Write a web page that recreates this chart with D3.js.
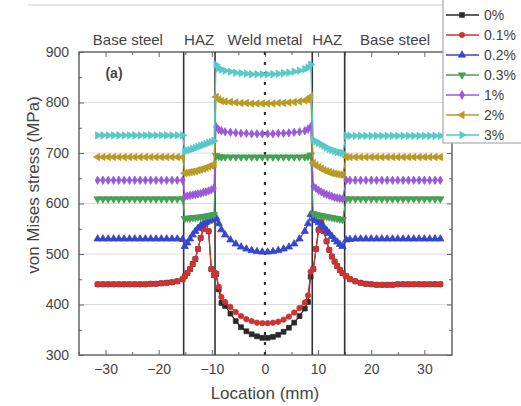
<!DOCTYPE html>
<html lang="en">
<head>
  <meta charset="UTF-8">
  <title>von Mises stress</title>
  <script src="https://d3js.org/d3.v7.min.js"></script>
  <style>
    body { margin: 0; background: #fff; }
    text { font-family: Arial, "Liberation Sans", sans-serif; fill: #444; }
  </style>
</head>
<body>
  <script>
    // Location (mm) of the measurement points
    const xs = [
      -31.5,-30.5,-29.5,-28.5,-27.5,-26.5,-25.5,-24.5,-23.5,-22.5,-21.5,-20.5,-19.5,-18.5,-17.5,-16.5,-15.5,
      -15.1,-14.6,-14.1,-13.6,-13.1,-12.6,-12.1,-11.6,-11.1,-10.6,-10.1,-9.6,
      -9.2,-8.7,-8.2,-7.5,-6.5,-5.5,-4.5,-3.5,-2.5,-1.5,-0.5,0.5,1.5,2.5,3.5,4.5,5.5,6.5,7.5,8.1,8.6,
      9.1,9.6,10.1,10.6,11.1,11.6,12.1,12.6,13.1,13.6,14.1,14.6,
      15.3,16,17,18,19,20,21,22,23,24,25,26,27,28,29,30,31,32,33
    ];

    // stress values (MPa), one array per strain level
    const s0 = [
      440,440,440,440,440,440,440,440,440,440,441,441,442,443,444,446,450,
      456,462,470,480,490,510,532,550,562,545,470,458,
      460,430,403,397,382,367,355,347,341,337,334,334,336,340,346,354,364,377,392,405,455,
      470,510,548,563,545,525,508,495,485,476,468,462,
      456,450,446,443,441,440,439,439,439,439,440,440,440,440,440,440,440,440,440
    ];
    const s01 = [
      440,440,440,440,440,440,440,440,440,440,441,441,442,443,444,446,450,
      456,462,470,480,490,510,532,550,562,545,470,458,
      462,435,415,405,395,385,377,371,367,364,363,363,364,366,370,376,384,393,404,418,465,
      470,510,548,563,545,525,508,495,485,476,468,462,
      456,450,446,443,441,440,439,439,439,439,440,440,440,440,440,440,440,440,440
    ];
    const s02 = [
      530,530,530,530,530,530,530,530,530,530,530,530,530,530,530,530,529,
      515,522,530,538,545,551,556,560,563,565,567,569,
      572,560,548,538,528,520,514,510,507,505,504,504,505,507,510,514,520,530,545,560,578,
      570,566,562,558,553,547,541,535,529,524,519,515,
      528,529,530,530,530,530,530,530,530,530,530,530,530,530,530,530,530,530,530
    ];
    const s03 = [
      609,609,609,609,609,609,609,609,609,609,609,609,609,609,609,609,609,
      570,571,571,572,572,573,573,574,575,576,577,578,
      695,693,692,692,692,692,692,692,692,692,692,692,692,692,692,692,692,692,692,693,696,
      580,578,577,576,575,574,573,572,571,570,569,568,
      609,609,609,609,609,609,609,609,609,609,609,609,609,609,609,609,609,609,609
    ];
    const s1 = [
      646,646,646,646,646,646,646,646,646,646,646,646,646,646,646,646,646,
      614,615,616,617,618,619,620,622,623,625,627,630,
      752,746,744,742,741,740,739,739,738,738,738,738,738,739,739,740,741,742,744,747,752,
      634,630,626,623,620,618,616,614,612,611,610,609,
      646,646,646,646,646,646,646,646,646,646,646,646,646,646,646,646,646,646,646
    ];
    const s2 = [
      692,692,692,692,692,692,692,692,692,692,692,692,692,692,692,692,692,
      660,661,662,663,664,666,667,669,671,673,675,678,
      811,806,803,802,801,800,799,799,798,798,798,798,798,799,799,800,801,802,804,806,812,
      680,676,672,669,666,664,662,660,659,658,657,656,
      692,692,692,692,692,692,692,692,692,692,692,692,692,692,692,692,692,692,692
    ];
    const s3 = [
      735,735,735,735,735,735,735,735,735,735,735,735,735,735,735,735,735,
      703,705,706,708,710,712,714,716,718,720,722,724,
      875,868,865,863,861,859,858,857,856,856,856,856,856,857,858,859,861,863,866,869,875,
      726,723,720,717,714,711,708,706,704,702,701,700,
      734,734,734,734,734,734,734,734,734,734,734,734,734,734,734,734,734,734,734
    ];

    const seriesNames = ["0%", "0.1%", "0.2%", "0.3%", "1%", "2%", "3%"];
    const seriesValues = [s0, s01, s02, s03, s1, s2, s3];
    const colors = ["#2a2a2a", "#d03232", "#3546cc", "#45a052", "#9a58da", "#b99a24", "#58c8c8"];
    const shapes = ["square", "circle", "up", "down", "diamond", "left", "right"];

    const xTicks = [-30, -20, -10, 0, 10, 20, 30];
    const yTicks = [300, 400, 500, 600, 700, 800, 900];
    const boundaries = [-15.3, -9.4, 8.9, 15.0];
    const regions = [
      { label: "Base steel", x: -25.8 },
      { label: "HAZ", x: -12.4 },
      { label: "Weld metal", x: 0 },
      { label: "HAZ", x: 11.7 },
      { label: "Base steel", x: 24.5 }
    ];

    const width = 521, height = 406;
    const m = { left: 79, right: 452, top: 52, bottom: 355 };

    const svg = d3.select("body").append("svg")
      .attr("width", width)
      .attr("height", height);

    const x = d3.scaleLinear().domain([-35, 35.2]).range([m.left, m.right]);
    const y = d3.scaleLinear().domain([300, 900]).range([m.bottom, m.top]);

    // faint line across the very top (cropped from the original figure)
    svg.append("line")
      .attr("x1", 28).attr("x2", 443).attr("y1", 5).attr("y2", 5)
      .style("stroke", "#d0d0d0");

    // grid
    svg.append("g").selectAll("line")
      .data(yTicks.slice(1, -1))
      .enter().append("line")
      .attr("x1", m.left).attr("x2", m.right)
      .attr("y1", d => y(d)).attr("y2", d => y(d))
      .style("stroke", "#dcdcdc");

    // axes with inward ticks
    const xMinor = [-35, -25, -15, -5, 5, 15, 25];
    const yMinor = [350, 450, 550, 650, 750, 850];

    svg.append("g").attr("transform", `translate(0,${m.bottom})`)
      .call(d3.axisBottom(x).tickValues(xTicks).tickSizeInner(-5).tickSizeOuter(0).tickPadding(9))
      .call(g => g.selectAll("text").style("font-size", "14px").attr("fill", "#444"));
    svg.append("g").attr("transform", `translate(0,${m.bottom})`)
      .call(d3.axisBottom(x).tickValues(xMinor).tickSize(-3).tickFormat(""));
    svg.append("g").attr("transform", `translate(0,${m.top})`)
      .call(d3.axisTop(x).tickValues(xTicks).tickSizeInner(-5).tickSizeOuter(0).tickFormat(""));
    svg.append("g").attr("transform", `translate(0,${m.top})`)
      .call(d3.axisTop(x).tickValues(xMinor).tickSize(-3).tickFormat(""));

    svg.append("g").attr("transform", `translate(${m.left},0)`)
      .call(d3.axisLeft(y).tickValues(yTicks).tickSizeInner(-5).tickSizeOuter(0).tickPadding(10))
      .call(g => g.selectAll("text").style("font-size", "14px").attr("fill", "#444"));
    svg.append("g").attr("transform", `translate(${m.left},0)`)
      .call(d3.axisLeft(y).tickValues(yMinor).tickSize(-3).tickFormat(""));
    svg.append("g").attr("transform", `translate(${m.right},0)`)
      .call(d3.axisRight(y).tickValues(yTicks).tickSizeInner(-5).tickSizeOuter(0).tickFormat(""));
    svg.append("g").attr("transform", `translate(${m.right},0)`)
      .call(d3.axisRight(y).tickValues(yMinor).tickSize(-3).tickFormat(""));

    svg.selectAll(".domain").style("stroke", "none");
    svg.selectAll(".tick line").style("stroke", "#666");

    // frame
    svg.append("rect")
      .attr("x", m.left).attr("y", m.top)
      .attr("width", m.right - m.left).attr("height", m.bottom - m.top)
      .style("fill", "none").style("stroke", "#666").style("stroke-width", 1.5);

    // region boundaries
    svg.append("g").selectAll("line")
      .data(boundaries)
      .enter().append("line")
      .attr("x1", d => x(d)).attr("x2", d => x(d))
      .attr("y1", m.top).attr("y2", m.bottom)
      .style("stroke", "#333").style("stroke-width", 1.6);

    // centre line
    svg.append("line")
      .attr("x1", x(0)).attr("x2", x(0))
      .attr("y1", m.top).attr("y2", m.bottom)
      .style("stroke", "#333").style("stroke-width", 2.2)
      .style("stroke-dasharray", "3,7");

    // region labels
    svg.append("g").selectAll("text")
      .data(regions)
      .enter().append("text")
      .attr("x", d => x(d.x)).attr("y", 45)
      .attr("text-anchor", "middle")
      .style("font-size", "15px")
      .text(d => d.label);

    svg.append("text")
      .attr("x", 114).attr("y", 78)
      .attr("text-anchor", "middle")
      .style("font-size", "14px").style("font-weight", "bold")
      .attr("fill", "#333")
      .text("(a)");

    // axis titles
    svg.append("text")
      .attr("x", x(0)).attr("y", 399)
      .attr("text-anchor", "middle")
      .style("font-size", "17px")
      .text("Location (mm)");
    svg.append("text")
      .attr("transform", "translate(39,185) rotate(-90)")
      .attr("text-anchor", "middle")
      .style("font-size", "17px")
      .text("von Mises stress (MPa)");

    // marker generator
    function markerPath(shape, size) {
      const base = {
        square: d3.symbolSquare, circle: d3.symbolCircle, up: d3.symbolTriangle,
        down: d3.symbolTriangle, diamond: d3.symbolDiamond,
        left: d3.symbolTriangle, right: d3.symbolTriangle
      }[shape];
      return d3.symbol().type(base).size(size)();
    }
    const rot = { up: 0, down: 180, left: -90, right: 90, square: 0, circle: 0, diamond: 0 };

    const line = d3.line().x((d, i) => x(xs[i])).y(d => y(d));

    seriesValues.forEach((vals, k) => {
      const g = svg.append("g");
      g.append("path")
        .attr("d", line(vals))
        .style("fill", "none")
        .style("stroke", colors[k])
        .style("stroke-width", 1.2);
      g.selectAll("path.pt")
        .data(vals)
        .enter().append("path")
        .attr("class", "pt")
        .attr("d", markerPath(shapes[k], shapes[k] === "diamond" ? 20 : 23))
        .attr("transform", (d, i) => `translate(${x(xs[i])},${y(d)}) rotate(${rot[shapes[k]]})`)
        .style("fill", colors[k])
        .style("stroke", colors[k])
        .style("stroke-width", 0.8);
    });

    // legend
    const lg = svg.append("g");
    lg.append("rect")
      .attr("x", 443).attr("y", -1).attr("width", 90).attr("height", 144)
      .style("fill", "#fff").style("stroke", "#aaa").style("stroke-width", 1.2);
    seriesNames.forEach((name, k) => {
      const ly = 15 + k * 20;
      lg.append("line")
        .attr("x1", 446).attr("x2", 479).attr("y1", ly).attr("y2", ly)
        .style("stroke", colors[k]).style("stroke-width", 1.3);
      lg.append("path")
        .attr("d", markerPath(shapes[k], 24))
        .attr("transform", `translate(462,${ly}) rotate(${rot[shapes[k]]})`)
        .style("fill", colors[k]).style("stroke", colors[k]).style("stroke-width", 0.6);
      lg.append("text")
        .attr("x", 484).attr("y", ly + 5)
        .style("font-size", "14px")
        .text(name);
    });
  </script>
</body>
</html>
